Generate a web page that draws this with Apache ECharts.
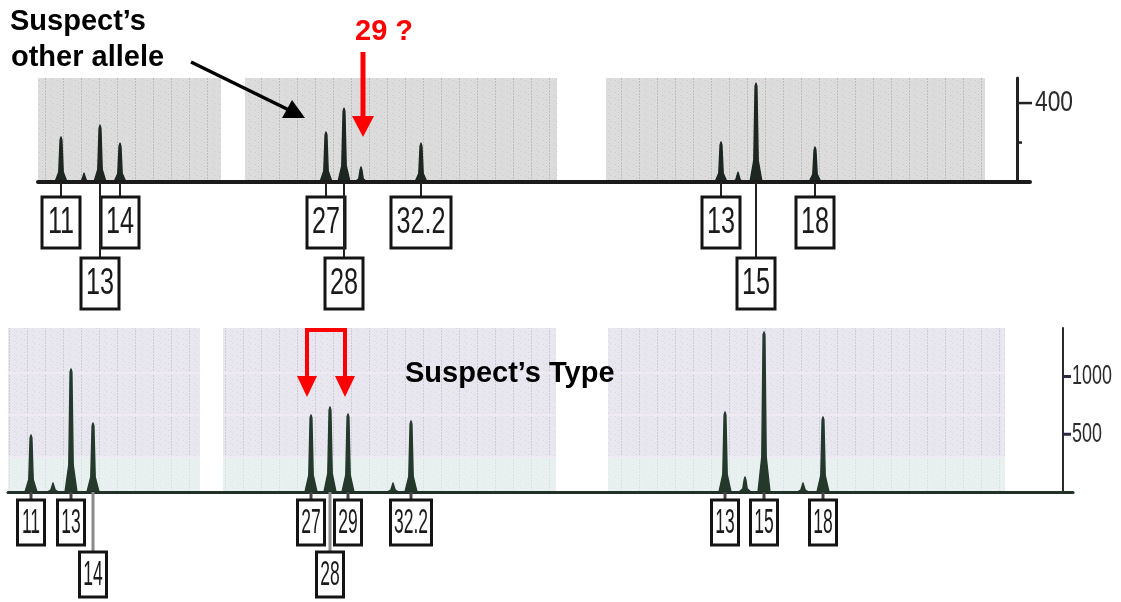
<!DOCTYPE html>
<html>
<head>
<meta charset="utf-8">
<script src="https://cdn.jsdelivr.net/npm/echarts@6/dist/echarts.min.js"></script>
<style>
html,body{margin:0;padding:0;background:#fff;}
#chart{width:1121px;height:602px;}
</style>
</head>
<body>
<div id="chart"></div>
<script>
// ---------- DATA (scan position, RFU) ----------
// Top panel: "Suspect's other allele"
const topPeakPos    = [61, 84, 100, 120, 326, 344, 361, 421, 721, 738, 756, 815];
const topPeakHeight = [228, 45, 288, 197, 253, 374, 76, 197, 203, 50, 501, 177];
const topAlleles    = ['11', '14', '13', '27', '28', '32.2', '13', '15', '18'];
const topAllelePos  = [61, 120, 100, 326, 344, 421, 721, 756, 815];
const topAlleleRow  = [1, 1, 2, 1, 2, 1, 1, 2, 1];
const topRegions    = [[38, 221], [245, 557], [606, 985]];
const topTicks      = [400];
const topMinorTicks = [200];

// Bottom panel: "Suspect's Type"
const botPeakPos    = [31, 53, 71, 93, 311, 330, 348, 393, 411, 725, 745, 764, 803, 823];
const botPeakHeight = [494, 78, 1065, 597, 667, 736, 675, 78, 615, 693, 130, 1385, 78, 649];
const botAlleles    = ['11', '13', '14', '27', '28', '29', '32.2', '13', '15', '18'];
const botAllelePos  = [31, 71, 93, 311, 330, 348, 411, 725, 764, 823];
const botAlleleRow  = [1, 1, 2, 1, 2, 1, 1, 1, 1, 1];
const botRegions    = [[8, 200], [223, 556], [608, 1005]];
const botTicks      = [500, 1000];
const botMinorTicks = [];

// ---------- STYLE ----------
const TOP_X = [38, 1030], BOT_X = [8, 1073];
const TOP_YMAX = 527, BOT_YMAX = 1420;
const TOP_AXIS_OFF = -13, BOT_AXIS_OFF = -10;

function makePattern(base, stripe, speck) {
  const c = document.createElement('canvas');
  c.width = 18; c.height = 6;
  const g = c.getContext('2d');
  g.fillStyle = base; g.fillRect(0, 0, 18, 6);
  g.fillStyle = stripe;
  [[9,0],[9,1],[9,3],[9,4]].forEach(p => g.fillRect(p[0], p[1], 1, 1));
  g.fillStyle = speck;
  [[3,2],[14,5],[6,4],[16,1]].forEach(p => g.fillRect(p[0], p[1], 1, 1));
  return c;
}
const topPattern = makePattern('#dcdcdc', '#bdbdbd', '#c9c9c9');
const botPattern = makePattern('#e8e6ef', '#cdc8da', '#d8d4e3');

const chart = echarts.init(document.getElementById('chart'), null, {renderer: 'canvas'});

function regionSeries(xi, regions, pattern, bands) {
  return {
    type: 'custom', xAxisIndex: xi, yAxisIndex: xi, z: 1, silent: true,
    data: regions, encode: {x: [0, 1]},
    renderItem: function (params, api) {
      const p0 = api.coord([api.value(0), 0]);
      const p1 = api.coord([api.value(1), 0]);
      const cs = params.coordSys;
      const children = [{
        type: 'rect',
        shape: {x: p0[0], y: cs.y, width: p1[0] - p0[0], height: cs.height},
        style: {fill: {image: pattern, repeat: 'repeat'}}
      }];
      if (bands) {
        children.push({type: 'rect', shape: {x: p0[0], y: cs.y + cs.height * 0.787, width: p1[0] - p0[0], height: cs.height * 0.213},
          style: {fill: 'rgba(232,248,240,0.55)'}});
        bands.forEach(f => children.push({type: 'line',
          shape: {x1: p0[0], y1: cs.y + cs.height * f, x2: p1[0], y2: cs.y + cs.height * f},
          style: {stroke: 'rgba(240,234,244,0.9)', lineWidth: 2}}));
      }
      return {type: 'group', children: children};
    }
  };
}

function peakSeries(xi, pos, hts, color) {
  return {
    type: 'custom', xAxisIndex: xi, yAxisIndex: xi, z: 4, silent: true,
    data: pos.map((p, i) => [p, hts[i]]), encode: {x: 0, y: 1},
    renderItem: function (params, api) {
      const b = api.coord([api.value(0), 0]);
      const t = api.coord([api.value(0), api.value(1)]);
      const H = b[1] - t[1];
      const x = b[0], y = b[1];
      return {
        type: 'polygon',
        shape: {points: [[x - 6, y], [x - 2.2, y - 0.22 * H], [x - 0.9, y - H + 3], [x, y - H],
                         [x + 0.9, y - H + 3], [x + 2.2, y - 0.22 * H], [x + 6, y]]},
        style: {fill: color, stroke: color, lineWidth: 1.4, lineJoin: 'round'}
      };
    }
  };
}

function labelSeries(xi, pos, rows, labels, cfg) {
  return {
    type: 'custom', xAxisIndex: xi, yAxisIndex: xi, z: 6, silent: true, clip: false,
    data: pos.map((p, i) => [p, rows[i]]), encode: {x: 0},
    renderItem: function (params, api) {
      const b = api.coord([api.value(0), 0]);
      const row = api.value(1);
      const txt = labels[params.dataIndex];
      const w = cfg.charW * txt.length + cfg.padW;
      const top = b[1] + (row === 1 ? cfg.row1 : cfg.row2);
      return {
        type: 'group',
        children: [
          {type: 'line', shape: {x1: b[0], y1: b[1], x2: b[0], y2: top},
           style: {stroke: row === 1 ? cfg.conn1 : cfg.conn2, lineWidth: cfg.connW}},
          {type: 'rect', shape: {x: b[0] - w / 2, y: top, width: w, height: cfg.boxH},
           style: {fill: '#fff', stroke: '#141414', lineWidth: 3}},
          {type: 'text', x: b[0], y: top + cfg.boxH / 2 + 1, scaleX: cfg.sx,
           style: {text: txt, font: cfg.font, fill: '#1a1a1a', align: 'center', verticalAlign: 'middle'}}
        ]
      };
    }
  };
}

// ticks + condensed tick labels of the intensity axes, placed through the y scale
function tickSeries(xi, ticks, minor, xRight, cfg) {
  const all = ticks.map(v => [xRight, v, 1]).concat(minor.map(v => [xRight, v, 0]));
  return {
    type: 'custom', xAxisIndex: xi, yAxisIndex: xi, z: 6, silent: true, clip: false,
    data: all, encode: {x: 0, y: 1},
    renderItem: function (params, api) {
      const p = api.coord([api.value(0), api.value(1)]);
      const major = api.value(2) === 1;
      const ax = p[0] + cfg.axisOff;
      const children = [{type: 'line',
        shape: {x1: ax, y1: p[1], x2: ax + (major ? cfg.tickLen : cfg.minorLen), y2: p[1]},
        style: {stroke: cfg.tickColor, lineWidth: cfg.tickW}}];
      if (major) children.push({type: 'text', x: ax + cfg.tickLen + cfg.gap, y: p[1], scaleX: cfg.sx,
        style: {text: String(api.value(1)), font: cfg.font, fill: '#2a2a2a', align: 'left', verticalAlign: 'middle'}});
      return {type: 'group', children: children};
    }
  };
}

const option = {
  animation: false,
  backgroundColor: '#ffffff',
  grid: [
    {left: TOP_X[0], right: 1121 - TOP_X[1], top: 78, height: 104},
    {left: BOT_X[0], right: 1121 - BOT_X[1], top: 328, height: 164}
  ],
  xAxis: [
    {gridIndex: 0, type: 'value', min: TOP_X[0], max: TOP_X[1], z: 5,
     axisLine: {show: true, lineStyle: {color: '#1b1b1b', width: 4}},
     axisTick: {show: false}, axisLabel: {show: false}, splitLine: {show: false}},
    {gridIndex: 1, type: 'value', min: BOT_X[0], max: BOT_X[1], z: 5,
     axisLine: {show: true, lineStyle: {color: '#233229', width: 3}},
     axisTick: {show: false}, axisLabel: {show: false}, splitLine: {show: false}}
  ],
  yAxis: [
    {gridIndex: 0, type: 'value', position: 'right', offset: TOP_AXIS_OFF, min: 0, max: TOP_YMAX,
     axisLine: {show: true, onZero: false, lineStyle: {color: '#222', width: 3}},
     axisTick: {show: false}, axisLabel: {show: false}, splitLine: {show: false}},
    {gridIndex: 1, type: 'value', position: 'right', offset: BOT_AXIS_OFF, min: 0, max: BOT_YMAX,
     axisLine: {show: true, onZero: false, lineStyle: {color: '#2a2a2a', width: 2}},
     axisTick: {show: false}, axisLabel: {show: false}, splitLine: {show: false}}
  ],
  series: [
    regionSeries(0, topRegions, topPattern, null),
    regionSeries(1, botRegions, botPattern, [0.274, 0.53, 0.787]),
    peakSeries(0, topPeakPos, topPeakHeight, '#1d2620'),
    peakSeries(1, botPeakPos, botPeakHeight, '#24392b'),
    labelSeries(0, topAllelePos, topAlleleRow, topAlleles,
      {row1: 15, row2: 76, boxH: 51, charW: 11, padW: 16, sx: 0.7,
       font: '36px "Liberation Sans", Arial', conn1: '#222', conn2: '#222', connW: 2}),
    labelSeries(1, botAllelePos, botAlleleRow, botAlleles,
      {row1: 8, row2: 60, boxH: 45, charW: 7, padW: 13, sx: 0.5,
       font: '35px "Liberation Sans", Arial', conn1: '#444', conn2: '#8a8a8a', connW: 3}),
    tickSeries(0, topTicks, topMinorTicks, TOP_X[1],
      {axisOff: TOP_AXIS_OFF, tickLen: 15, minorLen: 5, tickW: 2.5, tickColor: '#222', gap: 3, sx: 0.76,
       font: '30px "Liberation Sans", Arial'}),
    tickSeries(1, botTicks, botMinorTicks, BOT_X[1],
      {axisOff: BOT_AXIS_OFF, tickLen: 8, minorLen: 4, tickW: 3, tickColor: '#2a2a45', gap: 1, sx: 0.64,
       font: '28px "Liberation Sans", Arial'})
  ],
  graphic: [
    {type: 'text', x: 10, y: 22, z: 20, style: {text: 'Suspect\u2019s', font: 'bold 29px "Liberation Sans", Arial', fill: '#000', verticalAlign: 'middle'}},
    {type: 'text', x: 11, y: 58, z: 20, style: {text: 'other allele', font: 'bold 29px "Liberation Sans", Arial', fill: '#000', verticalAlign: 'middle'}},
    {type: 'line', z: 20, shape: {x1: 191, y1: 62, x2: 291, y2: 111}, style: {stroke: '#000', lineWidth: 3.5}},
    {type: 'polygon', z: 20, shape: {points: [[305, 118], [282, 118], [292, 100]]}, style: {fill: '#000'}},
    {type: 'text', x: 355, y: 32, z: 20, style: {text: '29 ?', font: 'bold 29px "Liberation Sans", Arial', fill: '#ff0000', verticalAlign: 'middle'}},
    {type: 'line', z: 20, shape: {x1: 363, y1: 52, x2: 363, y2: 118}, style: {stroke: '#ff0000', lineWidth: 5}},
    {type: 'polygon', z: 20, shape: {points: [[352, 116], [374, 116], [363, 137]]}, style: {fill: '#ff0000'}},
    {type: 'polyline', z: 20, shape: {points: [[307, 378], [307, 330], [345, 330], [345, 378]]}, style: {stroke: '#ff0000', lineWidth: 4, fill: null}},
    {type: 'polygon', z: 20, shape: {points: [[297, 376], [317, 376], [307, 397]]}, style: {fill: '#ff0000'}},
    {type: 'polygon', z: 20, shape: {points: [[335, 376], [355, 376], [345, 397]]}, style: {fill: '#ff0000'}},
    {type: 'text', x: 405, y: 374, z: 20, style: {text: 'Suspect\u2019s Type', font: 'bold 29px "Liberation Sans", Arial', fill: '#000', verticalAlign: 'middle'}}
  ]
};
chart.setOption(option);
</script>
</body>
</html>
